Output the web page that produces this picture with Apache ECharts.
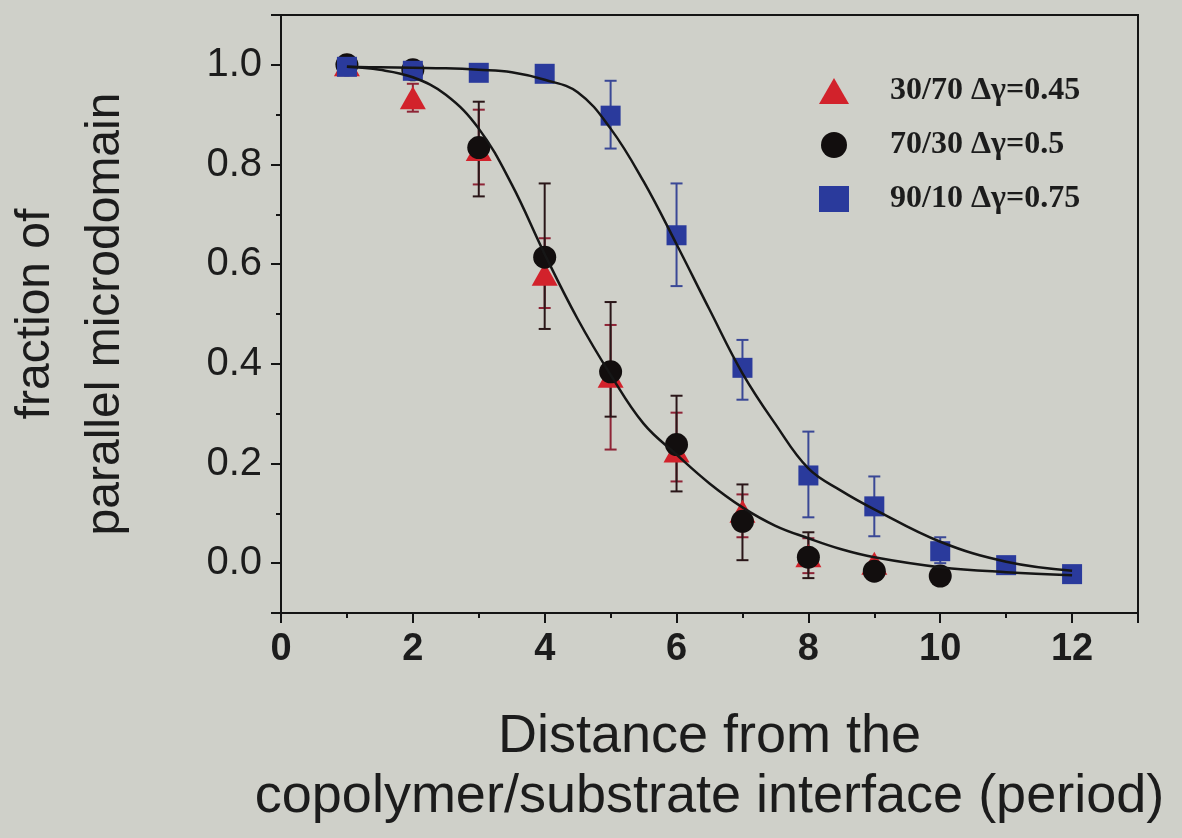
<!DOCTYPE html>
<html>
<head>
<meta charset="utf-8">
<script src="https://cdn.jsdelivr.net/npm/echarts@6/dist/echarts.min.js"></script>
<style>
  html, body { margin: 0; padding: 0; background: #cfd0c9; }
  #chart { width: 1182px; height: 838px; }
</style>
</head>
<body>
<div id="chart"></div>
<script>
// measured points (period vs fraction)
const redX = [1, 2, 3, 4, 5, 6, 7, 8, 9];
const redY = [1.0, 0.934, 0.83, 0.58, 0.375, 0.225, 0.104, 0.015, 0.0];
const blackX = [1, 2, 3, 4, 5, 6, 7, 8, 9, 10];
const blackY = [1.0, 0.99, 0.834, 0.614, 0.384, 0.238, 0.084, 0.012, -0.016, -0.026];
const blueX = [1, 2, 3, 4, 5, 6, 7, 8, 9, 10, 11, 12];
const blueY = [0.996, 0.988, 0.984, 0.982, 0.898, 0.658, 0.392, 0.176, 0.114, 0.024, -0.004, -0.022];

// error bars
const redErrX = [2, 3, 4, 5, 6, 7, 8];
const redErrLow = [0.906, 0.76, 0.512, 0.228, 0.164, 0.052, -0.02];
const redErrHigh = [0.962, 0.91, 0.652, 0.478, 0.302, 0.138, 0.05];
const blackErrX = [3, 4, 5, 6, 7, 8];
const blackErrLow = [0.736, 0.47, 0.294, 0.144, 0.006, -0.03];
const blackErrHigh = [0.926, 0.762, 0.524, 0.336, 0.158, 0.062];
const blueErrX = [5, 6, 7, 8, 9, 10];
const blueErrLow = [0.832, 0.556, 0.328, 0.092, 0.054, 0.0];
const blueErrHigh = [0.968, 0.762, 0.448, 0.264, 0.174, 0.052];

// fitted curves
const fitX = [1, 1.5, 2, 2.5, 3, 3.5, 4, 4.5, 5, 5.5, 6, 6.5, 7, 7.5, 8, 8.5, 9, 10, 11, 12];
const fitBlackY = [0.996, 0.99, 0.975, 0.94, 0.872, 0.76, 0.62, 0.49, 0.378, 0.28, 0.218, 0.16, 0.112, 0.075, 0.05, 0.028, 0.012, -0.008, -0.018, -0.024];
const fitBlueY = [0.996, 0.995, 0.994, 0.993, 0.99, 0.985, 0.97, 0.945, 0.872, 0.766, 0.64, 0.509, 0.381, 0.279, 0.19, 0.145, 0.108, 0.043, 0.003, -0.015];

const names = ['30/70 Δγ=0.45', '70/30 Δγ=0.5', '90/10 Δγ=0.75'];

const axisColor = '#141414';
const textColor = '#1c1c1c';

const zip = (xs, ys) => xs.map((x, i) => [x, ys[i]]);

// error bar series (vertical line + caps)
const errorBars = (xs, lows, highs, color) => ({
  type: 'custom',
  z: 2,
  silent: true,
  data: xs.map((x, i) => [x, lows[i], highs[i]]),
  encode: { x: 0, y: [1, 2] },
  renderItem: (params, api) => {
    const lo = api.coord([api.value(0), api.value(1)]);
    const hi = api.coord([api.value(0), api.value(2)]);
    const w = 6;
    const style = { stroke: color, lineWidth: 2, fill: null };
    return {
      type: 'group',
      children: [
        { type: 'line', shape: { x1: hi[0], y1: hi[1], x2: lo[0], y2: lo[1] }, style },
        { type: 'line', shape: { x1: hi[0] - w, y1: hi[1], x2: hi[0] + w, y2: hi[1] }, style },
        { type: 'line', shape: { x1: lo[0] - w, y1: lo[1], x2: lo[0] + w, y2: lo[1] }, style }
      ]
    };
  }
});

const chart = echarts.init(document.getElementById('chart'), null, { renderer: 'canvas' });

const option = {
  backgroundColor: '#cfd0c9',
  animation: false,
  grid: {
    left: 281, right: 44, top: 15, bottom: 225,
    show: true,
    borderColor: axisColor,
    borderWidth: 2,
    backgroundColor: 'transparent',
    outerBoundsMode: 'none'
  },
  legend: {
    orient: 'vertical',
    left: 814,
    top: 70,
    itemWidth: 30,
    itemHeight: 26,
    itemGap: 22,
    data: [
      { name: names[0], icon: 'triangle' },
      { name: names[1], icon: 'circle' },
      { name: names[2], icon: 'rect' }
    ],
    textStyle: {
      fontFamily: 'Liberation Serif',
      fontWeight: 'bold',
      fontSize: 32,
      color: textColor,
      padding: [4, 0, 0, 36]
    }
  },
  xAxis: [
    {
      type: 'value',
      min: 0,
      max: 13,
      interval: 2,
      name: 'Distance from the\ncopolymer/substrate interface (period)',
      nameLocation: 'middle',
      nameGap: 94,
      nameMoveOverlap: false,
      nameTextStyle: {
        fontFamily: 'Liberation Sans',
        fontSize: 54,
        lineHeight: 60,
        color: textColor
      },
      axisLine: { onZero: false, lineStyle: { color: axisColor, width: 2 } },
      axisTick: { length: 10, lineStyle: { color: axisColor, width: 2 } },
      axisLabel: {
        margin: 18,
        fontFamily: 'Liberation Sans',
        fontWeight: 'bold',
        fontSize: 38,
        color: textColor,
        formatter: v => (v > 12 ? '' : String(v))
      },
      splitLine: { show: false }
    },
    {
      // minor ticks
      type: 'value',
      position: 'bottom',
      min: 0,
      max: 13,
      interval: 1,
      axisLine: { show: false, onZero: false },
      axisTick: { length: 5, lineStyle: { color: axisColor, width: 2 } },
      axisLabel: { show: false },
      splitLine: { show: false }
    }
  ],
  yAxis: [
    {
      type: 'value',
      min: -0.1,
      max: 1.1,
      splitNumber: 6,
      name: 'fraction of\nparallel microdomain',
      nameLocation: 'middle',
      nameRotate: 90,
      nameGap: 140,
      nameMoveOverlap: false,
      nameTextStyle: {
        fontFamily: 'Liberation Sans',
        fontSize: 48,
        lineHeight: 70,
        color: textColor
      },
      axisLine: { onZero: false, lineStyle: { color: axisColor, width: 2 } },
      axisTick: { length: 10, lineStyle: { color: axisColor, width: 2 } },
      axisLabel: {
        margin: 19,
        fontFamily: 'Liberation Sans',
        fontSize: 40,
        color: textColor,
        formatter: v => (v < -0.01 || v > 1.01 ? '' : v.toFixed(1))
      },
      splitLine: { show: false }
    },
    {
      // minor ticks
      type: 'value',
      position: 'left',
      min: -0.1,
      max: 1.1,
      interval: 0.1,
      axisLine: { show: false, onZero: false },
      axisTick: { length: 5, lineStyle: { color: axisColor, width: 2 } },
      axisLabel: { show: false },
      splitLine: { show: false }
    }
  ],
  series: [
    errorBars(redErrX, redErrLow, redErrHigh, '#8e2436'),
    errorBars(blackErrX, blackErrLow, blackErrHigh, '#2a1618'),
    errorBars(blueErrX, blueErrLow, blueErrHigh, '#3a4896'),
    {
      name: names[0],
      type: 'scatter',
      symbol: 'triangle',
      symbolSize: [26, 23],
      z: 3,
      itemStyle: { color: '#d2222b', opacity: 1 },
      data: zip(redX, redY)
    },
    {
      name: names[1],
      type: 'scatter',
      symbol: 'circle',
      symbolSize: 23,
      z: 4,
      itemStyle: { color: '#120e0e', opacity: 1 },
      data: zip(blackX, blackY)
    },
    {
      name: names[2],
      type: 'scatter',
      symbol: 'rect',
      symbolSize: 20,
      z: 5,
      itemStyle: { color: '#2a3a9c', opacity: 1 },
      data: zip(blueX, blueY)
    },
    {
      name: 'fit 70/30',
      type: 'line',
      smooth: 0.4,
      showSymbol: false,
      silent: true,
      z: 6,
      lineStyle: { color: '#161616', width: 2.5 },
      data: zip(fitX, fitBlackY)
    },
    {
      name: 'fit 90/10',
      type: 'line',
      smooth: 0.4,
      showSymbol: false,
      silent: true,
      z: 6,
      lineStyle: { color: '#161616', width: 2.5 },
      data: zip(fitX, fitBlueY)
    }
  ]
};

chart.setOption(option);
</script>
</body>
</html>
